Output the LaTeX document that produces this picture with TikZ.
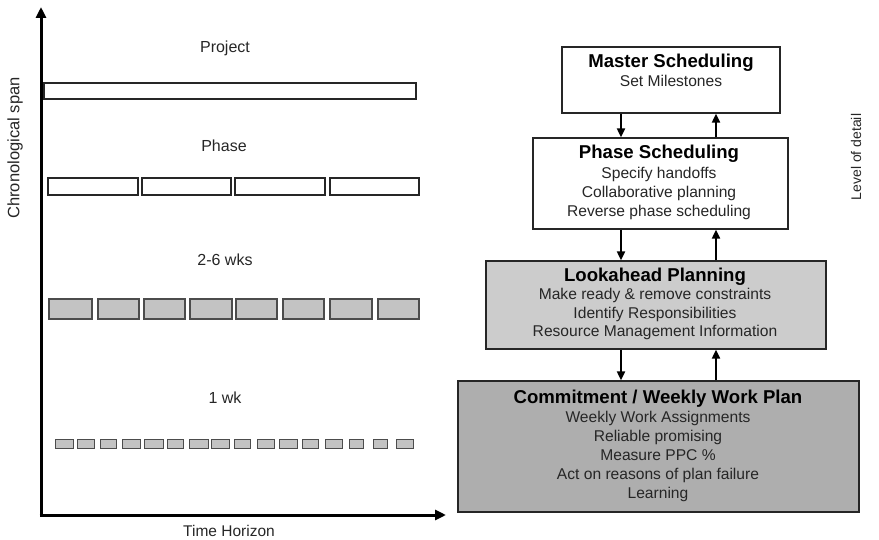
\documentclass[tikz,border=0pt]{standalone}
\usepackage{fontspec}
\setmainfont{Liberation Sans}
\usetikzlibrary{arrows.meta}
\definecolor{lagray}{HTML}{CCCCCC}
\definecolor{cmgray}{HTML}{AEAEAE}
\definecolor{bargray}{HTML}{C3C3C3}
\tikzset{
  axis/.style={line width=3pt,-{Triangle[length=11pt,width=10pt]}},
  box/.style={draw=black!85,line width=1.3pt,inner sep=0pt},
  ttl/.style={font=\fontsize{18.6}{18.6}\selectfont\bfseries,inner sep=0pt,anchor=center,text height=13.5pt,text depth=4pt},
  txt/.style={font=\fontsize{15.6}{15.6}\selectfont,text=black!85,inner sep=0pt,anchor=center,text height=11.3pt,text depth=3.3pt},
  lbl/.style={font=\fontsize{16}{16}\selectfont,text=black!85,inner sep=0pt},
  conn/.style={line width=2pt,-{Triangle[length=9pt,width=8pt]}},
  whitebar/.style={draw=black!85,line width=1.2pt,fill=white},
  graybar/.style={draw=black!70,line width=1.1pt,fill=bargray},
}
\begin{document}
\begin{tikzpicture}[x=1pt,y=-1pt]
\useasboundingbox (0,0) rectangle (879,540);
% axes
\coordinate (O) at (41,515);
\coordinate (Ytop) at (41,7);
\coordinate (Xend) at (446,515);
\draw[axis] ([yshift=-1.5pt]O) -- (Ytop);
\draw[axis] ([xshift=-1.5pt]O) -- (Xend);
\node[lbl,rotate=90,font=\fontsize{16.5}{16.5}\selectfont] (cs) at (15,148) {Chronological span};
\node[lbl,font=\fontsize{15.5}{15.5}\selectfont] (th) at (229,531) {Time Horizon};
% left labels
\node[lbl] (lp) at (225,48) {Project};
\node[lbl] (lph) at (224,146) {Phase};
\node[lbl] (l26) at (225,260) {2-6 wks};
\node[lbl] (l1) at (225,398) {1 wk};
% bars
\draw[whitebar] (44,83) rectangle (416,99);
\foreach \a/\b in {48/138,142/231,235/325,330/419}
  \draw[whitebar] (\a,178) rectangle (\b,195);
\foreach \a/\b in {49/92,98/139,144/185,190/232,236/277,283/324,330/372,378/419}
  \draw[graybar] (\a,299) rectangle (\b,319);
\foreach \a/\b in {55/73,77/94,100/116,122/140,144/163,167/183,189/208,211/229,234/250,257/274,279/297,302/318,325/342,349/363,373/387,396/413}
  \draw[graybar,line width=0.9pt] (\a,439) rectangle (\b,448);
% right boxes
\node[box,fill=white,minimum width=218pt,minimum height=66pt] (ms) at (671,80) {};
\node[box,fill=white,minimum width=255pt,minimum height=91pt] (ps) at (660.5,183.5) {};
\node[box,fill=lagray,minimum width=340pt,minimum height=88pt] (la) at (656,305) {};
\node[box,fill=cmgray,minimum width=401pt,minimum height=131pt] (cm) at (658.5,446.5) {};
\node[ttl] (mst) at (671,63) {Master Scheduling};
\node[txt] (ms1) at (671,83) {Set Milestones};
\node[ttl] (pst) at (659,154) {Phase Scheduling};
\node[txt] (ps1) at (659,175) {Specify handoffs};
\node[txt] (ps2) at (659,194) {Collaborative planning};
\node[txt] (ps3) at (659,213) {Reverse phase scheduling};
\node[ttl] (lat) at (655,277) {Lookahead Planning};
\node[txt] (la1) at (655,296) {Make ready \& remove constraints};
\node[txt] (la2) at (655,315) {Identify Responsibilities};
\node[txt] (la3) at (655,333) {Resource Management Information};
\node[ttl] (cmt) at (658,399) {Commitment / Weekly Work Plan};
\node[txt] (cm1) at (658,418) {Weekly Work Assignments};
\node[txt] (cm2) at (658,437) {Reliable promising};
\node[txt] (cm3) at (658,456) {Measure PPC \%};
\node[txt] (cm4) at (658,475) {Act on reasons of plan failure};
\node[txt] (cm5) at (658,494) {Learning};
\node[lbl,rotate=90,font=\fontsize{14}{14}\selectfont] (lod) at (856,157) {Level of detail};
% connectors
\coordinate (dn) at (621,0);
\coordinate (up) at (716,0);
\draw[conn] (ms.south -| dn) -- (ps.north -| dn);
\draw[conn] (ps.north -| up) -- (ms.south -| up);
\draw[conn] (ps.south -| dn) -- (la.north -| dn);
\draw[conn] (la.north -| up) -- (ps.south -| up);
\draw[conn] (la.south -| dn) -- (cm.north -| dn);
\draw[conn] (cm.north -| up) -- (la.south -| up);
\end{tikzpicture}
\end{document}
